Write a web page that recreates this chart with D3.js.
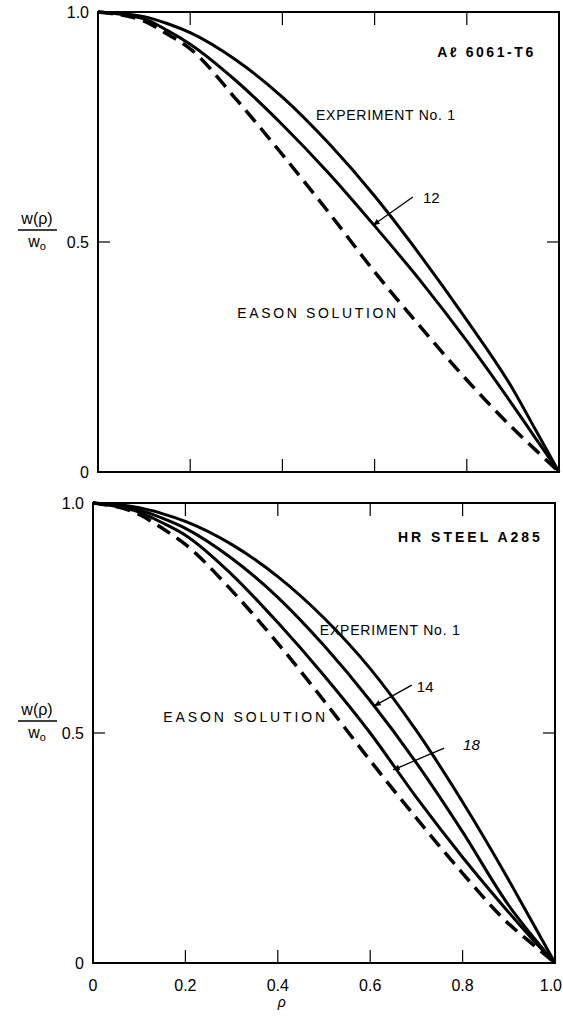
<!DOCTYPE html>
<html>
<head>
<meta charset="utf-8">
<script src="https://cdn.jsdelivr.net/npm/d3@7"></script>
<style>
  body { margin: 0; background: #fff; }
  svg { display: block; font-family: "Liberation Sans", Arial, sans-serif; }
</style>
</head>
<body>
<svg width="563" height="1016"></svg>
<script>
// radial position, same grid for every curve
var rho = [0, 0.1, 0.15, 0.2, 0.3, 0.4, 0.5, 0.6, 0.7, 0.8, 0.9, 0.95, 1.0];

// top panel: Al 6061-T6
var alExp1   = [1, 0.99, 0.975, 0.955, 0.895, 0.815, 0.715, 0.60, 0.47, 0.33, 0.18, 0.09, 0];
var alExp12  = [1, 0.985, 0.96, 0.93, 0.85, 0.755, 0.65, 0.535, 0.415, 0.285, 0.145, 0.072, 0];
var alEason  = [1, 0.98, 0.952, 0.92, 0.81, 0.69, 0.565, 0.435, 0.315, 0.20, 0.095, 0.047, 0];

// bottom panel: HR steel A285
var stExp1   = [1, 0.99, 0.977, 0.96, 0.91, 0.84, 0.75, 0.64, 0.505, 0.35, 0.18, 0.09, 0];
var stExp14  = [1, 0.985, 0.967, 0.945, 0.88, 0.795, 0.69, 0.57, 0.435, 0.285, 0.125, 0.06, 0];
var stExp18  = [1, 0.98, 0.957, 0.93, 0.845, 0.74, 0.625, 0.50, 0.36, 0.23, 0.11, 0.053, 0];
var stEason  = [1, 0.975, 0.945, 0.91, 0.81, 0.695, 0.57, 0.44, 0.315, 0.195, 0.085, 0.042, 0];

var xTicks = [0, 0.2, 0.4, 0.6, 0.8, 1.0];
var yTicks = [0, 0.5, 1.0];

var panels = [
  {
    x0: 98, x1: 559, y0: 472, y1: 12, showX: false,
    solid: [alExp1, alExp12], dashed: [alEason],
    labels: [
      {t: "A\u2113 6061-T6", r: 0.944, w: 0.902, anchor: "end", len: 96, bold: true},
      {t: "EXPERIMENT No. 1", r: 0.473, w: 0.765, anchor: "start", len: 139},
      {t: "EASON SOLUTION", r: 0.302, w: 0.335, anchor: "start", len: 159}
    ],
    arrows: [{t: "12", r0: 0.683, w0: 0.598, r1: 0.597, w1: 0.537, lr: 0.705, lw: 0.585}]
  },
  {
    x0: 93, x1: 555, y0: 963, y1: 503, showX: true,
    solid: [stExp1, stExp14, stExp18], dashed: [stEason],
    labels: [
      {t: "HR STEEL A285", r: 0.66, w: 0.915, anchor: "start", len: 142, bold: true},
      {t: "EXPERIMENT No. 1", r: 0.491, w: 0.713, anchor: "start", len: 140},
      {t: "EASON SOLUTION", r: 0.152, w: 0.524, anchor: "start", len: 162}
    ],
    arrows: [
      {t: "14", r0: 0.690, w0: 0.604, r1: 0.609, w1: 0.559, lr: 0.701, lw: 0.59},
      {t: "18", r0: 0.760, w0: 0.467, r1: 0.650, w1: 0.420, lr: 0.801, lw: 0.462}
    ]
  }
];

var svg = d3.select("svg");

svg.append("defs").append("marker")
    .attr("id", "head")
    .attr("viewBox", "0 0 10 10")
    .attr("refX", 9).attr("refY", 5)
    .attr("markerWidth", 9).attr("markerHeight", 7)
    .attr("markerUnits", "userSpaceOnUse")
    .attr("orient", "auto")
  .append("path")
    .attr("d", "M0,1 L10,5 L0,9 Z")
    .attr("fill", "#000");

panels.forEach(function (p) {
    var x = d3.scaleLinear().domain([0, 1]).range([p.x0, p.x1]);
    var y = d3.scaleLinear().domain([0, 1]).range([p.y0, p.y1]);
    var g = svg.append("g");

    // frame
    g.append("rect")
        .attr("x", x(0)).attr("y", y(1))
        .attr("width", x(1) - x(0)).attr("height", y(0) - y(1))
        .attr("fill", "none").attr("stroke", "#000").attr("stroke-width", 2);

    // inward ticks
    var inner = [0.2, 0.4, 0.6, 0.8];
    g.selectAll(".tb").data(inner).enter().append("line")
        .attr("x1", d => x(d)).attr("x2", d => x(d))
        .attr("y1", y(0)).attr("y2", y(0) - 13)
        .attr("stroke", "#000").attr("stroke-width", 1.2);
    g.selectAll(".tt").data(inner).enter().append("line")
        .attr("x1", d => x(d)).attr("x2", d => x(d))
        .attr("y1", y(1)).attr("y2", y(1) + 13)
        .attr("stroke", "#000").attr("stroke-width", 1.2);
    [x(0), x(1)].forEach(function (xx, i) {
        g.append("line")
            .attr("x1", xx).attr("x2", i ? xx - 12 : xx + 12)
            .attr("y1", y(0.5)).attr("y2", y(0.5))
            .attr("stroke", "#000").attr("stroke-width", 1.2);
    });

    // y tick labels
    g.selectAll(".yl").data(yTicks).enter().append("text")
        .attr("x", x(0) - 9).attr("y", d => y(d) + 6)
        .attr("text-anchor", "end").attr("font-size", 16)
        .text(d => d === 0 ? "0" : d3.format(".1f")(d));

    if (p.showX) {
        // last label pulled in so it stays inside the page
        g.selectAll(".xl").data(xTicks).enter().append("text")
            .attr("x", d => d === 1 ? 562 : x(d)).attr("y", y(0) + 28)
            .attr("text-anchor", d => d === 1 ? "end" : "middle")
            .attr("font-size", 16)
            .text(d => d === 0 ? "0" : d3.format(".1f")(d));
        g.append("text")
            .attr("x", x(0.4) + 4).attr("y", y(0) + 44)
            .attr("text-anchor", "middle").attr("font-size", 14)
            .attr("font-style", "italic")
            .text("\u03c1");
    }

    // y axis label: w(rho) / w_o
    var ly = y(0.5) - 12;
    g.append("text").attr("x", 37).attr("y", ly - 6)
        .attr("text-anchor", "middle").attr("font-size", 16)
        .text("w(\u03c1)");
    g.append("line").attr("x1", 18).attr("x2", 57)
        .attr("y1", ly).attr("y2", ly)
        .attr("stroke", "#000").attr("stroke-width", 1.3);
    var wo = g.append("text").attr("x", 37).attr("y", ly + 17)
        .attr("text-anchor", "middle").attr("font-size", 16);
    wo.append("tspan").text("w");
    wo.append("tspan").attr("font-size", 11).attr("dy", 3).text("o");

    var line = d3.line()
        .x((d, i) => x(rho[i]))
        .y(d => y(d))
        .curve(d3.curveMonotoneX);

    g.selectAll(".solid").data(p.solid).enter().append("path")
        .attr("d", line)
        .attr("fill", "none").attr("stroke", "#000")
        .attr("stroke-width", 3).attr("stroke-linejoin", "round");

    g.selectAll(".dash").data(p.dashed).enter().append("path")
        .attr("d", line)
        .attr("fill", "none").attr("stroke", "#000")
        .attr("stroke-width", 3.5)
        .attr("stroke-dasharray", "15,8");

    p.labels.forEach(function (l) {
        g.append("text")
            .attr("x", x(l.r)).attr("y", y(l.w))
            .attr("text-anchor", l.anchor)
            .attr("font-size", 14)
            .attr("font-weight", l.bold ? "bold" : "normal")
            .attr("textLength", l.len).attr("lengthAdjust", "spacing")
            .text(l.t);
    });

    p.arrows.forEach(function (a) {
        g.append("line")
            .attr("x1", x(a.r0)).attr("y1", y(a.w0))
            .attr("x2", x(a.r1)).attr("y2", y(a.w1))
            .attr("stroke", "#000").attr("stroke-width", 1.3)
            .attr("marker-end", "url(#head)");
        g.append("text")
            .attr("x", x(a.lr)).attr("y", y(a.lw))
            .attr("font-size", 15)
            .attr("font-style", a.t === "18" ? "italic" : "normal")
            .text(a.t);
    });
});
</script>
</body>
</html>
